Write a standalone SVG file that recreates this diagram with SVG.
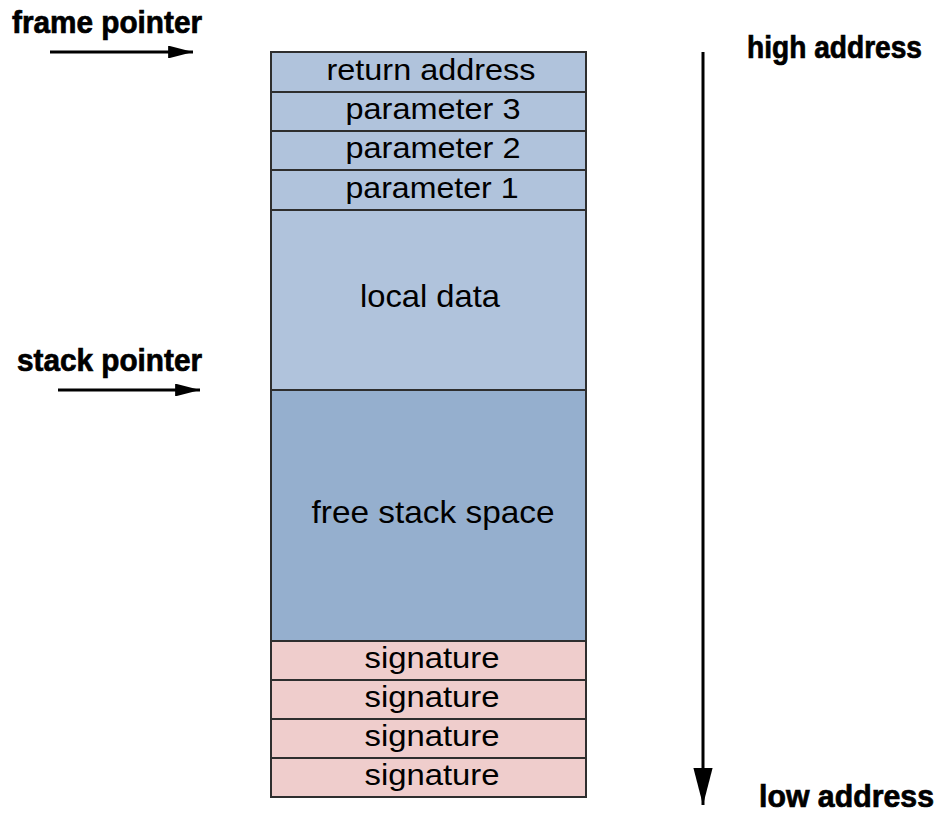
<svg xmlns="http://www.w3.org/2000/svg" width="939" height="813" viewBox="0 0 939 813">
  <style>
    .cell { stroke: #2e2e2e; stroke-width: 2; }
    .frame { fill: #b0c3dc; }
    .free { fill: #95afce; }
    .sig { fill: #efcdcc; }
    .lbl { font-family: "Liberation Sans", Arial, sans-serif; font-size: 29px; fill: #000; text-anchor: middle; }
    .big { font-size: 32px; }
    .side { font-family: "Liberation Sans", Arial, sans-serif; font-size: 31px; font-weight: bold; fill: #000; stroke: #000; stroke-width: 0.7; }
    .conn { stroke: #000; stroke-width: 3; fill: none; }
  </style>
  <defs>
    <marker id="head" viewBox="0 0 10 10" refX="10" refY="5" markerWidth="8.3" markerHeight="4.3" markerUnits="strokeWidth" orient="auto" preserveAspectRatio="none">
      <path d="M0,0 L10,5 L0,10 z" fill="#000"/>
    </marker>
    <marker id="head-long" viewBox="0 0 10 10" refX="10" refY="5" markerWidth="12.3" markerHeight="6.4" markerUnits="strokeWidth" orient="auto" preserveAspectRatio="none">
      <path d="M0,0 L10,5 L0,10 z" fill="#000"/>
    </marker>
  </defs>

  <!-- stack cells -->
  <g id="return-address">
    <rect class="cell frame" x="271" y="52" width="315" height="40"/>
    <text class="lbl" x="431" y="80" textLength="209" lengthAdjust="spacingAndGlyphs">return address</text>
  </g>
  <g id="parameter-3">
    <rect class="cell frame" x="271" y="92" width="315" height="39"/>
    <text class="lbl" x="433" y="119" textLength="175" lengthAdjust="spacingAndGlyphs">parameter 3</text>
  </g>
  <g id="parameter-2">
    <rect class="cell frame" x="271" y="131" width="315" height="39"/>
    <text class="lbl" x="433" y="158" textLength="175" lengthAdjust="spacingAndGlyphs">parameter 2</text>
  </g>
  <g id="parameter-1">
    <rect class="cell frame" x="271" y="170" width="315" height="40"/>
    <text class="lbl" x="432" y="198" textLength="173" lengthAdjust="spacingAndGlyphs">parameter 1</text>
  </g>
  <g id="local-data">
    <rect class="cell frame" x="271" y="210" width="315" height="180"/>
    <text class="lbl big" x="430" y="307" textLength="140" lengthAdjust="spacingAndGlyphs">local data</text>
  </g>
  <g id="free-stack-space">
    <rect class="cell free" x="271" y="390" width="315" height="251"/>
    <text class="lbl big" x="433" y="523" textLength="243" lengthAdjust="spacingAndGlyphs">free stack space</text>
  </g>
  <g id="signature-1">
    <rect class="cell sig" x="271" y="641" width="315" height="39"/>
    <text class="lbl" x="432" y="668" textLength="135" lengthAdjust="spacingAndGlyphs">signature</text>
  </g>
  <g id="signature-2">
    <rect class="cell sig" x="271" y="680" width="315" height="39"/>
    <text class="lbl" x="432" y="707" textLength="135" lengthAdjust="spacingAndGlyphs">signature</text>
  </g>
  <g id="signature-3">
    <rect class="cell sig" x="271" y="719" width="315" height="39"/>
    <text class="lbl" x="432" y="746" textLength="135" lengthAdjust="spacingAndGlyphs">signature</text>
  </g>
  <g id="signature-4">
    <rect class="cell sig" x="271" y="758" width="315" height="39"/>
    <text class="lbl" x="432" y="785" textLength="135" lengthAdjust="spacingAndGlyphs">signature</text>
  </g>

  <!-- pointer and address labels -->
  <g id="frame-pointer">
    <text class="side" x="12" y="33" textLength="190" lengthAdjust="spacingAndGlyphs">frame pointer</text>
  </g>
  <g id="stack-pointer">
    <text class="side" x="17" y="371" textLength="185" lengthAdjust="spacingAndGlyphs">stack pointer</text>
  </g>
  <g id="high-address">
    <text class="side" x="747" y="58" textLength="175" lengthAdjust="spacingAndGlyphs">high address</text>
  </g>
  <g id="low-address">
    <text class="side" x="759" y="807" textLength="175" lengthAdjust="spacingAndGlyphs">low address</text>
  </g>

  <!-- connectors -->
  <g id="connectors">
    <line class="conn" x1="50" y1="52" x2="193" y2="52" marker-end="url(#head)"/>
    <line class="conn" x1="58" y1="390" x2="200" y2="390" marker-end="url(#head)"/>
    <line class="conn" x1="703" y1="52" x2="703" y2="805" marker-end="url(#head-long)"/>
  </g>
</svg>
